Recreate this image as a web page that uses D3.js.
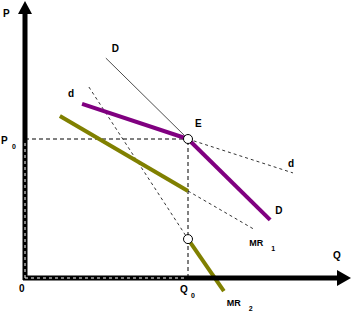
<!DOCTYPE html>
<html>
<head>
<meta charset="utf-8">
<script src="https://cdn.jsdelivr.net/npm/d3@7"></script>
<style>
  body { margin: 0; background: #fff; }
  svg text { font-family: "Liberation Sans Narrow", "Arial Narrow", "Liberation Sans", sans-serif; font-weight: bold; }
</style>
</head>
<body>
<div id="chart"></div>
<script>
// kinked demand model, values in chart units (Q, P)
const equilibrium = [50, 50];
const gapBottom = [50, 14];

const demandFlatThick = [[17.5, 62.6], [50, 50]];
const demandFlatDash = [[50, 50], [82.2, 37.8]];
const demandSteepThin = [[24.8, 79.1], [50, 50]];
const demandSteepThick = [[50, 50], [75.2, 20.9]];
const mr1Thick = [[10.7, 58.3], [50, 31.3]];
const mr1Dash = [[50, 31.3], [70.6, 17.3]];
const mr2Dash = [[19.6, 68.7], [50, 14]];
const mr2Thick = [[50, 14], [61, -4.7]];

const width = 351;
const height = 312;

const svg = d3.select("#chart")
  .append("svg")
  .attr("width", width)
  .attr("height", height);

const x = d3.scaleLinear().domain([0, 100]).range([25, 351]);
const y = d3.scaleLinear().domain([0, 100]).range([278, 0]);

const line = d3.line()
  .x(d => x(d[0]))
  .y(d => y(d[1]));

function seg(data, color, w, dash) {
  svg.append("path")
    .datum(data)
    .attr("d", line)
    .attr("fill", "none")
    .attr("stroke", color)
    .attr("stroke-width", w)
    .attr("stroke-dasharray", dash || null);
}

// guide lines to the axes
seg([[0, equilibrium[1]], equilibrium], "#000", 1, "4,3");
seg([[equilibrium[0], 0], equilibrium], "#000", 1, "4,3");

// thin and dashed curves
seg(demandSteepThin, "#000", 0.7);
seg(demandFlatDash, "#000", 0.8, "3,3");
seg(mr1Dash, "#000", 0.8, "3,3");
seg(mr2Dash, "#000", 0.8, "3,3");

// thick curves
seg(demandFlatThick, "#800080", 4);
seg(demandSteepThick, "#800080", 4);
seg(mr1Thick, "#808000", 4);
seg(mr2Thick, "#808000", 4);

// axes
const x0 = x(0), y0 = y(0);
svg.append("line")
  .attr("x1", x0).attr("y1", 12).attr("x2", x0).attr("y2", y0 + 2)
  .attr("stroke", "#000").attr("stroke-width", 5);
svg.append("line")
  .attr("x1", x0 - 2).attr("y1", y0).attr("x2", 340).attr("y2", y0)
  .attr("stroke", "#000").attr("stroke-width", 5);
svg.append("line")
  .attr("x1", x0).attr("y1", y(equilibrium[1]) + 4).attr("x2", x0).attr("y2", y0)
  .attr("stroke", "#fff").attr("stroke-width", 1).attr("stroke-dasharray", "3,3");
svg.append("line")
  .attr("x1", x0).attr("y1", y0).attr("x2", x(equilibrium[0]) - 4).attr("y2", y0)
  .attr("stroke", "#fff").attr("stroke-width", 1).attr("stroke-dasharray", "3,3");
svg.append("path")
  .attr("d", `M${x0 - 7},14 L${x0},1 L${x0 + 7},14 Z`)
  .attr("fill", "#000");
svg.append("path")
  .attr("d", `M337,${y0 - 8} L351,${y0} L337,${y0 + 8} Z`)
  .attr("fill", "#000");

// circles
svg.selectAll("circle.pt")
  .data([equilibrium, gapBottom])
  .enter()
  .append("circle")
  .attr("class", "pt")
  .attr("cx", d => x(d[0]))
  .attr("cy", d => y(d[1]))
  .attr("r", 4.5)
  .attr("fill", "#fff")
  .attr("stroke", "#000")
  .attr("stroke-width", 1);

// labels
function label(px, py, t, sub, size) {
  svg.append("text")
    .attr("x", px).attr("y", py)
    .attr("font-size", size || 10)
    .text(t);
  if (sub) {
    svg.append("text")
      .attr("x", px + (t === "MR" ? 22 : 11)).attr("y", py + 5)
      .attr("font-size", 7)
      .text(sub);
  }
}

label(3, 17, "P");
label(1, 144, "P", "0");
label(19, 292, "0");
label(333, 259, "Q");
label(x(equilibrium[0]) - 8, 293, "Q", "0");
label(x(demandSteepThin[0][0]) + 6, y(demandSteepThin[0][1]) - 6, "D");
label(x(demandFlatThick[0][0]) - 14, y(demandFlatThick[0][1]) - 7, "d");
label(x(equilibrium[0]) + 7, y(equilibrium[1]) - 12, "E");
label(x(demandFlatDash[1][0]) - 5, y(demandFlatDash[1][1]) - 6, "d");
label(x(demandSteepThick[1][0]) + 5, y(demandSteepThick[1][1]) - 6, "D");
label(x(mr1Dash[1][0]) - 6, y(mr1Dash[1][1]) + 16, "MR", "1", 9);
label(x(mr2Thick[1][0]) + 3, y(mr2Thick[1][1]) + 15, "MR", "2", 9);
</script>
</body>
</html>
